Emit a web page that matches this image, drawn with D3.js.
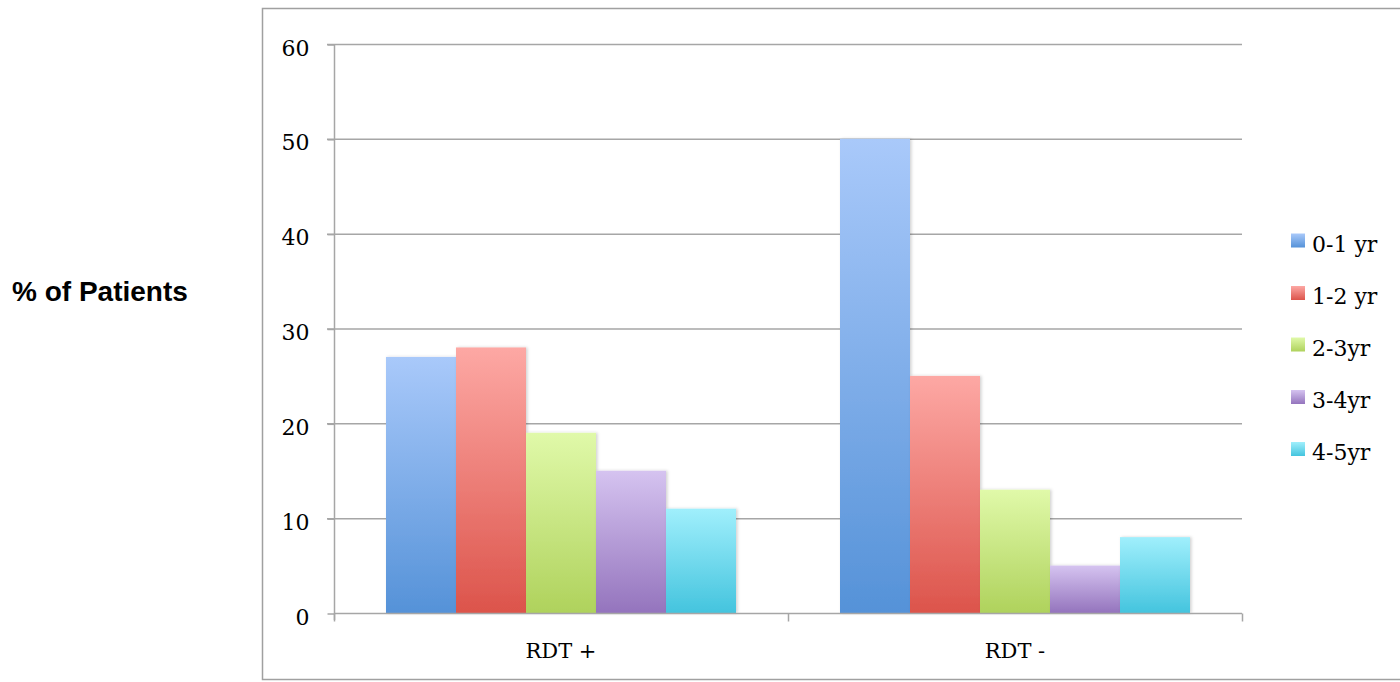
<!DOCTYPE html>
<html>
<head>
<meta charset="utf-8">
<script src="https://cdn.jsdelivr.net/npm/d3@7"></script>
<style>
  html, body { margin: 0; padding: 0; background: #fff; }
  svg { display: block; }
</style>
</head>
<body>
<svg id="chart" width="1400" height="682"></svg>
<script>
// Categories, age-group series and percentages
const categories = ["RDT +", "RDT -"];
const seriesNames = ["0-1 yr", "1-2 yr", "2-3yr", "3-4yr", "4-5yr"];
const values0to1 = [27, 50];
const values1to2 = [28, 25];
const values2to3 = [19, 13];
const values3to4 = [15, 5];
const values4to5 = [11, 8];
const yTicks = [0, 10, 20, 30, 40, 50, 60];

const seriesValues = [values0to1, values1to2, values2to3, values3to4, values4to5];
const gradients = [
  ["#a9c9fa", "#5592d8"],
  ["#fda8a4", "#dc544b"],
  ["#e0f9a9", "#afd25c"],
  ["#d5c3f0", "#9474bd"],
  ["#a0effc", "#44c4de"]
];

const serif = "'DejaVu Serif', 'Liberation Serif', serif";
const svg = d3.select("#chart");
const margin = { left: 334, right: 1242, top: 44, bottom: 613 };

// Outer chart frame
svg.append("rect")
  .attr("x", 262.5).attr("y", 8.5)
  .attr("width", 1400).attr("height", 671)
  .attr("fill", "none").attr("stroke", "#a0a0a0").attr("stroke-width", 1.5);

const defs = svg.append("defs");
gradients.forEach((g, i) => {
  const lg = defs.append("linearGradient")
    .attr("id", "grad" + i).attr("x1", 0).attr("y1", 0).attr("x2", 0).attr("y2", 1);
  lg.append("stop").attr("offset", "0%").attr("stop-color", g[0]);
  lg.append("stop").attr("offset", "100%").attr("stop-color", g[1]);
});
const shadow = defs.append("filter").attr("id", "shadow")
  .attr("x", "-10%").attr("y", "-10%").attr("width", "130%").attr("height", "120%");
shadow.append("feDropShadow").attr("dx", 1.5).attr("dy", 0).attr("stdDeviation", 1.5)
  .attr("flood-color", "#000").attr("flood-opacity", 0.18);

const y = d3.scaleLinear().domain([0, 60]).range([margin.bottom, margin.top]);
const x0 = d3.scaleBand().domain(categories).range([margin.left, margin.right]).paddingInner(0).paddingOuter(0);
const x1 = d3.scaleBand().domain(seriesNames).range([52, x0.bandwidth() - 52]).padding(0);

// Horizontal gridlines
svg.append("g")
  .selectAll("line").data(yTicks.filter(t => t > 0)).join("line")
  .attr("x1", margin.left - 7).attr("x2", margin.right)
  .attr("y1", d => y(d) + 0.5).attr("y2", d => y(d) + 0.5)
  .attr("stroke", "#a6a6a6").attr("stroke-width", 1.5);

// Y axis
const yAxis = svg.append("g")
  .attr("transform", `translate(${margin.left + 0.5},0)`)
  .call(d3.axisLeft(y).tickValues(yTicks).tickSize(7).tickPadding(18));
yAxis.select(".domain").attr("stroke", "#a6a6a6").attr("stroke-width", 1.5)
  .attr("d", `M0,${margin.top}V${margin.bottom + 7}`);
yAxis.selectAll(".tick line").attr("stroke", "#a6a6a6").attr("stroke-width", 1.5)
  .attr("transform", "translate(0,0.5)");
yAxis.selectAll(".tick text")
  .attr("font-family", serif)
  .attr("font-size", 22).attr("fill", "#000").attr("dy", "0.5em");

// Bars
const groups = svg.append("g").selectAll("g").data(categories).join("g")
  .attr("transform", d => `translate(${x0(d)},0)`);
groups.selectAll("rect")
  .data((c, ci) => seriesNames.map((s, si) => ({ s, si, v: seriesValues[si][ci] })))
  .join("rect")
  .attr("x", d => x1(d.s))
  .attr("y", d => y(d.v))
  .attr("width", x1.bandwidth())
  .attr("height", d => y(0) - y(d.v))
  .attr("fill", d => `url(#grad${d.si})`)
  .attr("filter", "url(#shadow)");

// X axis
const xAxis = svg.append("g")
  .attr("transform", `translate(0,${margin.bottom + 0.5})`);
xAxis.append("line")
  .attr("x1", margin.left).attr("x2", margin.right)
  .attr("stroke", "#a6a6a6").attr("stroke-width", 1.5);
xAxis.selectAll("line.tick").data([...categories.map(c => x0(c)), margin.right]).join("line")
  .attr("class", "tick")
  .attr("x1", d => d + 0.5).attr("x2", d => d + 0.5).attr("y1", 0).attr("y2", 8)
  .attr("stroke", "#a6a6a6").attr("stroke-width", 1.5);
xAxis.selectAll("text").data(categories).join("text")
  .attr("x", d => x0(d) + x0.bandwidth() / 2)
  .attr("y", 44)
  .attr("text-anchor", "middle")
  .attr("font-family", serif)
  .attr("font-size", 21).attr("fill", "#000")
  .text(d => d);

// Y axis title
svg.append("text")
  .attr("x", 12).attr("y", 301)
  .attr("font-family", "'Liberation Sans', Arial, sans-serif")
  .attr("font-weight", "bold").attr("font-size", 28).attr("fill", "#000")
  .text("% of Patients");

// Legend
const legendRows = [240.5, 293, 344.5, 397, 449];
const legend = svg.append("g").selectAll("g").data(seriesNames).join("g")
  .attr("transform", (d, i) => `translate(1291,${legendRows[i]})`);
legend.append("rect")
  .attr("x", 0).attr("y", -7).attr("width", 14).attr("height", 14)
  .attr("fill", (d, i) => `url(#grad${i})`);
legend.append("text")
  .attr("x", 21).attr("y", 11)
  .attr("font-family", serif)
  .attr("font-size", 22).attr("fill", "#000")
  .text(d => d);
</script>
</body>
</html>
